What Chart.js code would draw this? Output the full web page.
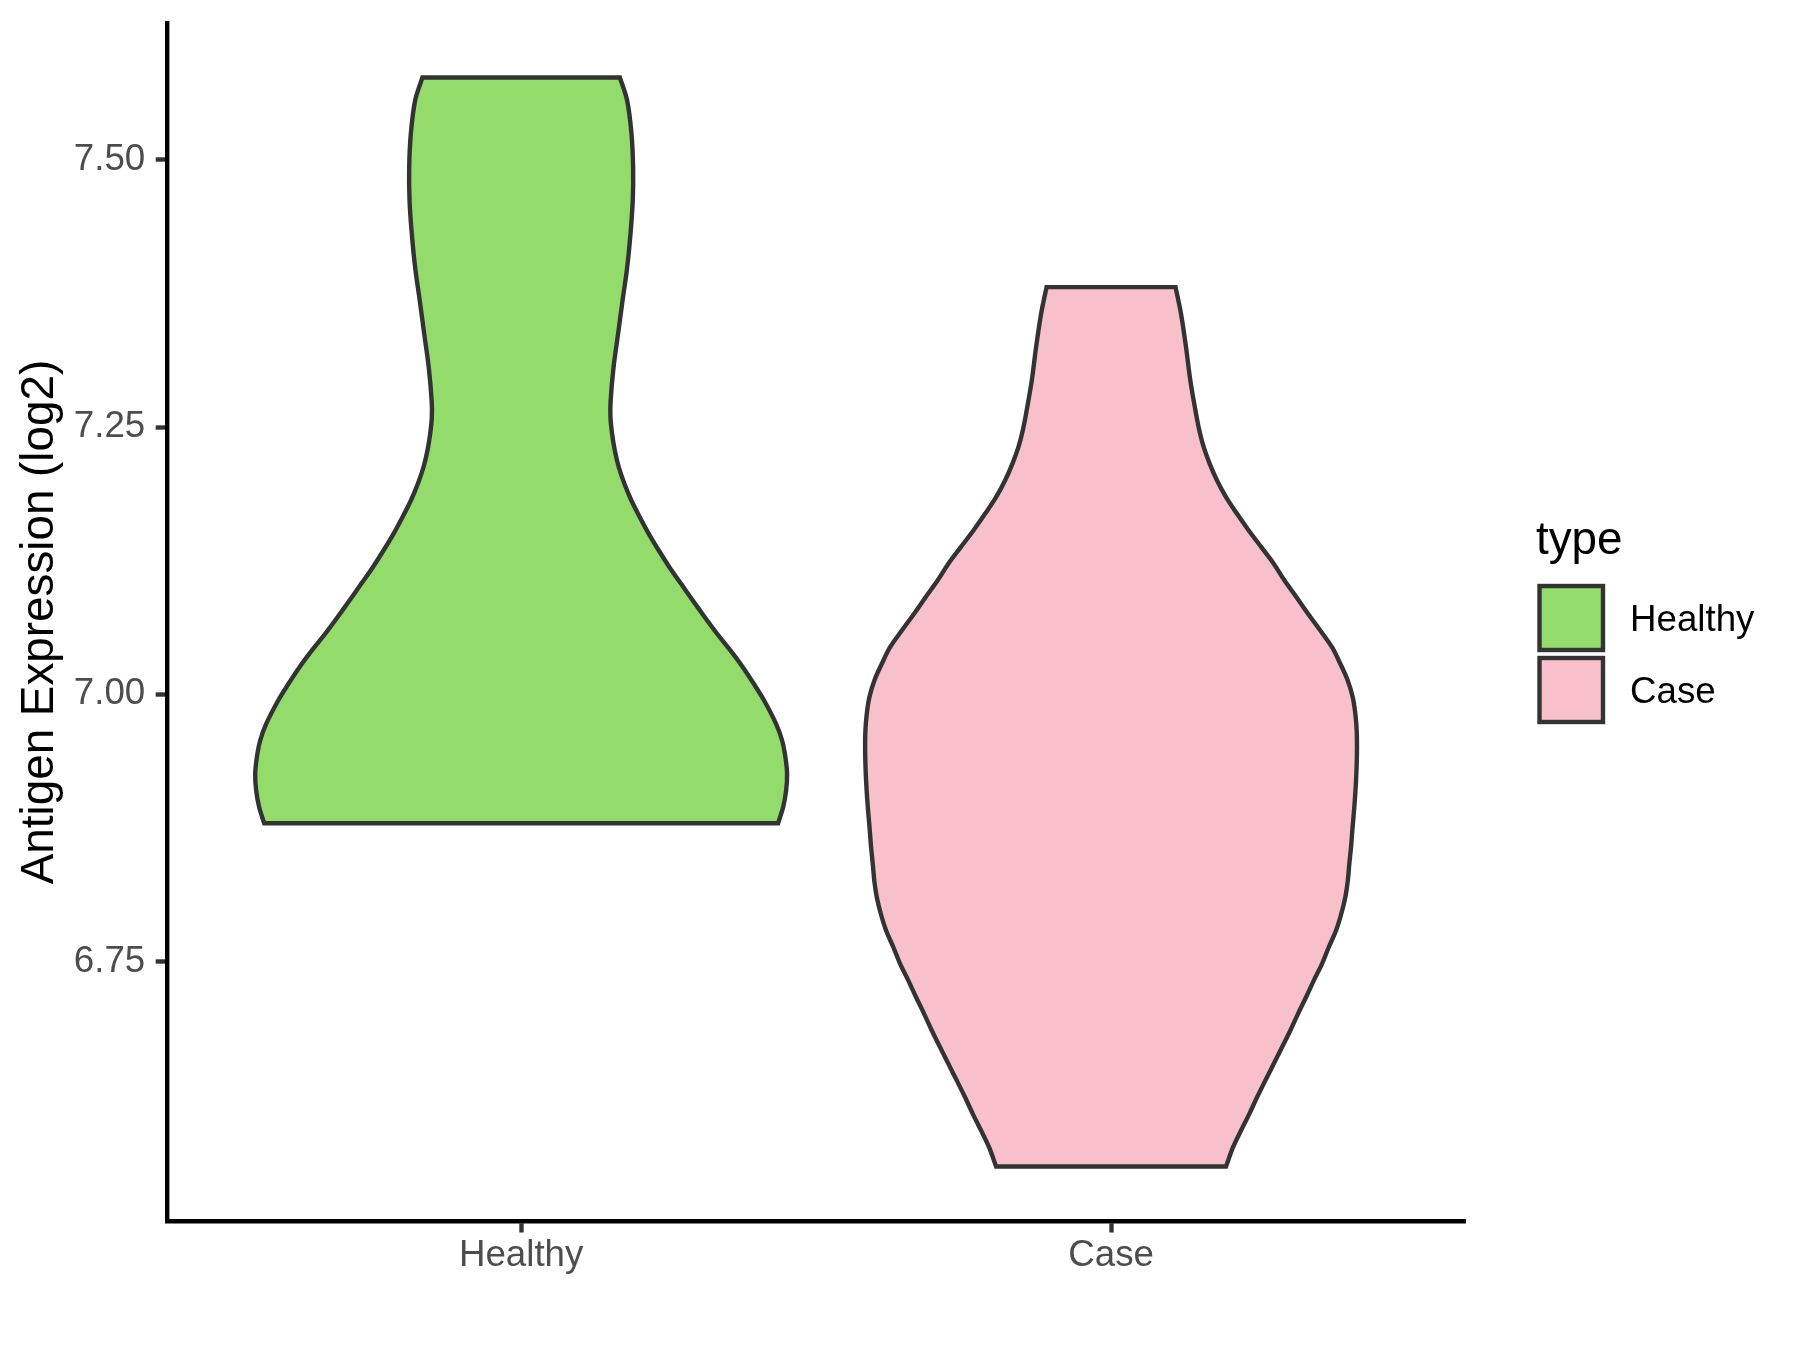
<!DOCTYPE html>
<html>
<head>
<meta charset="utf-8">
<script src="https://cdn.jsdelivr.net/npm/chart.js@4.4.1/dist/chart.umd.min.js"></script>
<style>
html, body { margin: 0; padding: 0; background: #ffffff; }
canvas { display: block; }
</style>
</head>
<body>
<canvas id="chart" width="1800" height="1350"></canvas>
<script>
// ---- data ----
const categories = ['Healthy', 'Case'];
const categoryPositions = [1, 2];

// violin outlines: expression levels (top to bottom) and half-widths (in category units)
const healthyY = [7.5772, 7.5557, 7.5248, 7.4930, 7.4621, 7.4312, 7.3994, 7.3685, 7.3376, 7.3058,
  7.2749, 7.2593, 7.2438, 7.2282, 7.2125, 7.1970, 7.1814, 7.1658, 7.1502, 7.1346,
  7.1190, 7.1034, 7.0878, 7.0722, 7.0567, 7.0411, 7.0254, 7.0099, 6.9943, 6.9724,
  6.9568, 6.9412, 6.9257, 6.9100, 6.8944, 6.8794];
const healthyHalfWidth = [0.1673, 0.1797, 0.1870, 0.1898, 0.1892, 0.1854, 0.1797, 0.1719, 0.1644, 0.1566,
  0.1517, 0.1514, 0.1542, 0.1588, 0.1656, 0.1751, 0.1869, 0.2012, 0.2164, 0.2334,
  0.2514, 0.2712, 0.2910, 0.3114, 0.3322, 0.3547, 0.3758, 0.3944, 0.4119, 0.4322,
  0.4424, 0.4480, 0.4508, 0.4492, 0.4441, 0.4356];

const caseY = [7.3810, 7.3561, 7.3248, 7.2937, 7.2625, 7.2469, 7.2313, 7.2157, 7.2001, 7.1845,
  7.1689, 7.1533, 7.1377, 7.1222, 7.1065, 7.0909, 7.0754, 7.0597, 7.0441, 7.0286,
  7.0130, 6.9973, 6.9818, 6.9662, 6.9506, 6.9350, 6.9194, 6.9038, 6.8882, 6.8726,
  6.8570, 6.8414, 6.8258, 6.8102, 6.7947, 6.7791, 6.7634, 6.7479, 6.7322, 6.7166,
  6.7011, 6.6855, 6.6698, 6.6543, 6.6387, 6.6230, 6.6075, 6.5919, 6.5763, 6.5582];
const caseHalfWidth = [0.1093, 0.1186, 0.1271, 0.1344, 0.1441, 0.1497, 0.1571, 0.1673, 0.1797, 0.1949,
  0.2136, 0.2334, 0.2547, 0.2758, 0.2941, 0.3144, 0.3339, 0.3547, 0.3746, 0.3886,
  0.4012, 0.4097, 0.4141, 0.4164, 0.4169, 0.4164, 0.4153, 0.4136, 0.4114, 0.4090,
  0.4068, 0.4039, 0.4014, 0.3971, 0.3903, 0.3814, 0.3690, 0.3576, 0.3436, 0.3305,
  0.3169, 0.3039, 0.2898, 0.2758, 0.2615, 0.2475, 0.2344, 0.2203, 0.2068, 0.1949];

const yTicks = [6.75, 7.00, 7.25, 7.50];
const yTickLabels = ['6.75', '7.00', '7.25', '7.50'];
const fillColors = ['#93DB6B', '#F7C0CB'];
const outlineColor = '#333333';
const yAxisTitle = 'Antigen Expression (log2)';
const legendTitle = 'type';

// ---- build violin polygons from the arrays (corner points doubled so the curve keeps sharp corners) ----
function violinPolygon(center, ys, hws) {
  const n = ys.length;
  const pts = [{ x: center, y: ys[0] }];
  pts.push({ x: center + hws[0], y: ys[0] });
  for (let i = 0; i < n; i++) pts.push({ x: center + hws[i], y: ys[i] });
  pts.push({ x: center + hws[n - 1], y: ys[n - 1] });
  pts.push({ x: center - hws[n - 1], y: ys[n - 1] });
  for (let i = n - 1; i >= 0; i--) pts.push({ x: center - hws[i], y: ys[i] });
  pts.push({ x: center - hws[0], y: ys[0] });
  pts.push({ x: center, y: ys[0] });
  return pts;
}
const allY = healthyY.concat(caseY);
const dataMin = Math.min(...allY), dataMax = Math.max(...allY);
const pad = (dataMax - dataMin) * 0.05;

const FONT = '"Liberation Sans", Arial, Helvetica, sans-serif';

const legendPlugin = {
  id: 'ggLegend',
  afterDraw(chart) {
    const ctx = chart.ctx;
    ctx.save();
    ctx.fillStyle = '#000000';
    ctx.textBaseline = 'alphabetic';
    ctx.textAlign = 'left';
    ctx.font = '45.8px ' + FONT;
    ctx.fillText(legendTitle, 1536, 554);
    ctx.font = '36.7px ' + FONT;
    for (let i = 0; i < categories.length; i++) {
      const top = 586 + i * 72;
      ctx.fillStyle = fillColors[i];
      ctx.fillRect(1539.5, top, 63.5, 64);
      ctx.lineWidth = 4.4;
      ctx.strokeStyle = outlineColor;
      ctx.strokeRect(1539.5, top, 63.5, 64);
      ctx.fillStyle = '#000000';
      ctx.fillText(categories[i], 1630, top + 32 + 13.2);
    }
    ctx.restore();
  }
};

function violinDataset(i, ys, hws) {
  return {
    label: categories[i],
    data: violinPolygon(categoryPositions[i], ys, hws),
    showLine: true, tension: 0.35, pointRadius: 0, pointHoverRadius: 0,
    borderColor: outlineColor, borderWidth: 4.4, borderJoinStyle: 'miter',
    backgroundColor: fillColors[i], fill: 'shape'
  };
}

new Chart(document.getElementById('chart'), {
  type: 'scatter',
  data: {
    datasets: [
      violinDataset(0, healthyY, healthyHalfWidth),
      violinDataset(1, caseY, caseHalfWidth)
    ]
  },
  options: {
    responsive: false,
    animation: false,
    devicePixelRatio: 1,
    layout: { padding: { left: 0, top: 23, right: 335, bottom: 0 } },
    plugins: { legend: { display: false }, tooltip: { enabled: false } },
    scales: {
      x: {
        type: 'linear',
        min: 0.4, max: 2.6,
        afterFit(scale) { scale.height = 129; scale.paddingLeft = 0; scale.paddingRight = 0; },
        afterBuildTicks(scale) { scale.ticks = categoryPositions.map(v => ({ value: v })); },
        ticks: {
          callback: (v) => categories[categoryPositions.indexOf(v)],
          color: '#4D4D4D', font: { family: FONT, size: 36.7 }, padding: 1,
          maxRotation: 0, autoSkip: false
        },
        grid: { drawOnChartArea: false, drawTicks: true, tickLength: 11.5, tickWidth: 4.4, tickColor: outlineColor, color: outlineColor },
        border: { display: true, color: '#000000', width: 4.4 }
      },
      y: {
        type: 'linear',
        min: dataMin - pad, max: dataMax + pad,
        afterFit(scale) { scale.width = 167.2; scale.paddingTop = 0; scale.paddingBottom = 0; },
        afterBuildTicks(scale) { scale.ticks = yTicks.map(v => ({ value: v })); },
        ticks: {
          callback: (v) => yTickLabels[yTicks.indexOf(v)],
          color: '#4D4D4D', font: { family: FONT, size: 36.7 }, padding: 10.5,
          autoSkip: false
        },
        grid: { drawOnChartArea: false, drawTicks: true, tickLength: 11.5, tickWidth: 4.4, tickColor: outlineColor, color: outlineColor },
        border: { display: true, color: '#000000', width: 4.4 },
        title: {
          display: true, text: yAxisTitle, color: '#000000',
          font: { family: FONT, size: 45.8 }, padding: { top: 12.5, bottom: 0 }
        }
      }
    }
  },
  plugins: [legendPlugin]
});
</script>
</body>
</html>
